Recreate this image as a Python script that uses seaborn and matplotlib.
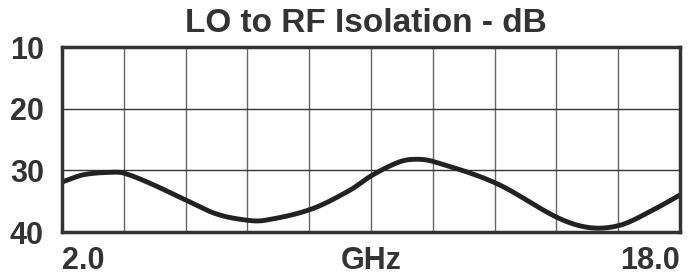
import numpy as np
import pandas as pd
import matplotlib
matplotlib.use("Agg")
import matplotlib.pyplot as plt
import matplotlib.transforms as mtransforms
import seaborn as sns

freq_ghz = [2.0, 2.57, 3.37, 3.63, 4.28, 5.2, 6.01, 6.8, 7.26, 8.45, 9.46, 10.03,
            10.75, 11.19, 11.63, 13.24, 14.84, 15.67, 16.45, 17.22, 18.0]
isolation_db = [31.9, 30.7, 30.3, 30.5, 32.1, 34.8, 37.1, 38.1, 38.1, 36.3, 33.2, 30.8,
                28.6, 28.2, 28.6, 32.1, 37.7, 39.3, 38.9, 36.7, 34.0]
y_ticks = [10, 20, 30, 40]
x_tick_pos = [2.0, 10.0, 18.0]
x_tick_labels = ["2.0", "GHz", "18.0"]
title = "LO to RF Isolation - dB"


def hermite(x, y, xq):
    x = np.asarray(x, float)
    y = np.asarray(y, float)
    n = len(x)
    m = np.zeros(n)
    m[1:-1] = (y[2:] - y[:-2]) / (x[2:] - x[:-2])
    m[0] = (y[1] - y[0]) / (x[1] - x[0])
    m[-1] = (y[-1] - y[-2]) / (x[-1] - x[-2])
    idx = np.clip(np.searchsorted(x, xq) - 1, 0, n - 2)
    h = x[idx + 1] - x[idx]
    t = (xq - x[idx]) / h
    h00 = 2*t**3 - 3*t**2 + 1
    h10 = t**3 - 2*t**2 + t
    h01 = -2*t**3 + 3*t**2
    h11 = t**3 - t**2
    return h00*y[idx] + h10*h*m[idx] + h01*y[idx+1] + h11*h*m[idx+1]


dense_x = np.linspace(2.0, 18.0, 400)
dense = pd.DataFrame({"freq": dense_x, "iso": hermite(freq_ghz, isolation_db, dense_x)})

sns.set_style("white")
plt.rcParams['font.family'] = ['Liberation Sans', 'DejaVu Sans']

fig = plt.figure(figsize=(6.89, 2.80), dpi=100)
ax = fig.add_axes([62/689, 48/280, 618/689, 185/280])

sns.lineplot(data=dense, x="freq", y="iso", ax=ax, color="#222222", linewidth=3.5)

ax.set_xlim(2.0, 18.0)
ax.set_ylim(40, 10)
ax.set_yticks(y_ticks)
ax.set_yticklabels([str(v) for v in y_ticks], fontsize=22, fontweight="bold", color="#333333")
ax.set_xticks(x_tick_pos)
ax.set_xticklabels(x_tick_labels, fontsize=22, fontweight="bold", color="#333333")
labels = ax.get_xticklabels()
labels[0].set_ha("left")
labels[1].set_ha("center")
labels[2].set_ha("right")
offsets = [-4, -10, 2]
for lab, dx in zip(labels, offsets):
    lab.set_transform(lab.get_transform() +
                      mtransforms.ScaledTranslation(dx/100, 0, fig.dpi_scale_trans))
ax.tick_params(axis="both", which="both", length=0)
ax.tick_params(axis="y", pad=13)
ax.tick_params(axis="x", pad=10)

ax.grid(False)
for v in np.linspace(2.0, 18.0, 11)[1:-1]:
    ax.axvline(v, color="#666666", linewidth=1.0, zorder=0)
for v in [20, 30]:
    ax.axhline(v, color="#333333", linewidth=1.0, zorder=0)

for s in ax.spines.values():
    s.set_visible(True)
    s.set_color("#333333")
    s.set_linewidth(2.5)

ax.set_xlabel("")
ax.set_ylabel("")
fig.text(366/689, 1 - 23/280, title, ha="center", va="center", fontsize=24,
         fontweight="bold", color="#333333")

fig.savefig("out.png", dpi=100)
